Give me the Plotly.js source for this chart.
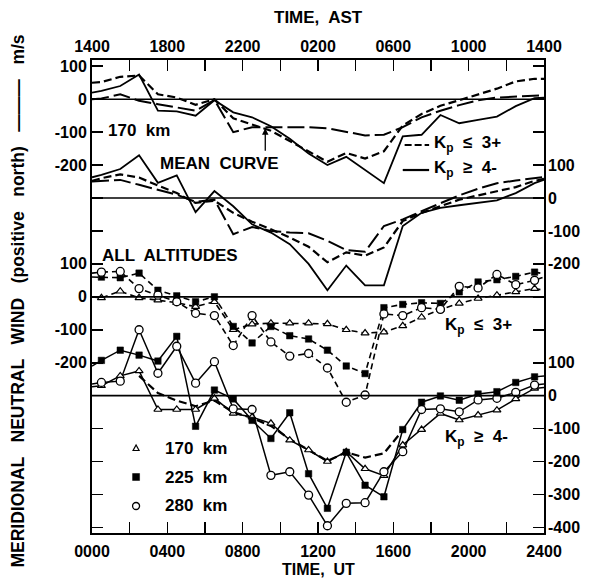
<!DOCTYPE html>
<html><head><meta charset="utf-8">
<script src="https://cdn.plot.ly/plotly-3.0.1.min.js"></script>
<style>html,body{margin:0;padding:0;background:#fff}#chart{width:606px;height:581px}</style>
</head><body><div id="chart"></div>
<script>
// ---- data (m/s, positive north), times in hours UT ----
const TIME_UT = [0, 0.5, 1.5, 2.5, 3.5, 4.5, 5.5, 6.5, 7.5, 8.5, 9.5, 10.5, 11.5, 12.5, 13.5, 14.5, 15.5, 16.5, 17.5, 18.5, 19.5, 20.5, 21.5, 22.5, 23.5, 24];
const UT_TICKS = [0, 2, 4, 6, 8, 10, 12, 14, 16, 18, 20, 22, 24];
const UT_LABELS = ["0000", "", "0400", "", "0800", "", "1200", "", "1600", "", "2000", "", "2400"];
const AST_LABELS = ["1400", "", "1800", "", "2200", "", "0200", "", "0600", "", "1000", "", "1400"];

// Panel 1: 170 km
const p1Quiet = [50, 52, 68, 72, 15, 5, -17, 0, -58, -78, -96, -127, -159, -190, -163, -180, -158, -80, -45, -20, -3, 15, 32, 54, 62, 62];
const p1Active = [20, 25, 40, 75, -35, -37, -50, -3, -40, -55, -82, -120, -165, -200, -175, -215, -255, -113, -108, -48, -73, -63, -53, -21, 3, 5];
const p1Mean = [0, 2, 15, -5, -15, -25, -35, -2, -100, -85, -85, -85, -85, -88, -100, -110, -108, -85, -55, -35, -18, -3, 5, 8, 12, 12];
// Panel 2: all altitudes
const p2Quiet = [52, 60, 72, 62, 38, 15, -15, -8, -45, -72, -95, -120, -148, -195, -165, -175, -150, -70, -45, -25, -5, 8, 20, 33, 52, 58];
const p2Active = [63, 70, 88, 130, 46, 69, -43, 21, -25, -80, -105, -140, -200, -280, -205, -265, -265, -85, -45, -30, -22, -15, -7, 15, 45, 55];
const p2Mean = [50, 52, 55, 40, 25, 10, -12, -5, -110, -88, -100, -105, -107, -130, -158, -163, -85, -65, -40, -15, 8, 28, 45, 53, 60, 64];
// Panel 3: Kp <= 3+
const p3_170 = [0, -3, 17, -3, -10, -18, -30, -15, -100, -83, -80, -80, -80, -82, -100, -110, -107, -88, -62, -38, -20, -5, 5, 15, 25, 20];
const p3_225 = [60, 60, 58, 72, 20, 3, -15, 0, -90, -140, -90, -118, -128, -162, -210, -233, -33, -23, -18, -20, 15, 45, 52, 62, 75, 70];
const p3_280 = [72, 75, 77, 25, 5, -15, -50, -57, -148, -57, -137, -180, -172, -216, -320, -298, -52, -57, -33, -38, 32, 27, 68, 37, 50, 60];
// Panel 4: Kp >= 4-
const p4_170 = [27, 30, 60, 75, -42, -42, -42, -8, -54, -65, -84, -135, -165, -200, -170, -222, -243, -150, -103, -54, -74, -59, -44, -10, 22, 25];
const p4_225 = [90, 107, 138, 123, 105, 180, -93, 17, -10, -75, -130, -52, -237, -342, -172, -272, -307, -103, -20, -1, -14, 5, 12, 40, 57, 60];
const p4_280 = [35, 40, 44, 200, 68, 150, 38, 103, -40, -42, -242, -231, -302, -395, -327, -325, -231, -170, -42, -40, -49, -13, -8, 10, 32, 35];
const MEAN4_TIME = [2.5, 3.5, 4.5, 5.5, 6.5, 7.5, 8.5, 9.5, 10.5, 11.5, 12.5, 13.5, 14.5, 15.5, 16.5];
const p4Mean = [60, 8, -15, -32, -15, -50, -68, -92, -132, -165, -198, -172, -188, -175, -105];

// ---- layout helpers ----
const OFF = [0, -300, -600, -900];
const shift = (arr, k) => arr.map(v => v + OFF[k]);
const SHORT = "8px,4px", LONG = "17px,5px", MK = "6px,4px";
const traces = [];
function addLine(x, vals, k, dash, w, ax) {
  traces.push({x: x, y: shift(vals, k), mode: "lines", xaxis: ax ? "x2" : "x", yaxis: ax ? "y2" : "y",
    line: {color: "black", width: w, dash: dash}, hoverinfo: "skip", showlegend: false});
}
function addMarkers(vals, k, sym, ax) {
  const st = {
    tri: {symbol: "triangle-up", size: 7, color: "white", line: {color: "black", width: 1.2}},
    sq: {symbol: "square", size: 6.5, color: "black", line: {color: "black", width: 0.5}},
    circ: {symbol: "circle", size: 8, color: "white", line: {color: "black", width: 1.3}}
  }[sym];
  traces.push({x: TIME_UT.slice(1, -1), y: shift(vals, k).slice(1, -1), mode: "markers",
    xaxis: ax ? "x2" : "x", yaxis: ax ? "y2" : "y", marker: st, hoverinfo: "skip", showlegend: false});
}
// panel 1
addLine(TIME_UT, p1Mean, 0, LONG, 2, false);
addLine(TIME_UT, p1Quiet, 0, SHORT, 2.2, false);
addLine(TIME_UT, p1Active, 0, "solid", 1.8, false);
// panel 2
addLine(TIME_UT, p2Mean, 1, LONG, 2, true);
addLine(TIME_UT, p2Quiet, 1, SHORT, 2.2, true);
addLine(TIME_UT, p2Active, 1, "solid", 1.8, true);
// panel 3
addLine(TIME_UT, p3_170, 2, MK, 1.6, false);
addLine(TIME_UT, p3_225, 2, MK, 1.6, false);
addLine(TIME_UT, p3_280, 2, MK, 1.6, false);
addMarkers(p3_170, 2, "tri", false);
addMarkers(p3_225, 2, "sq", false);
addMarkers(p3_280, 2, "circ", false);
// panel 4
addLine(MEAN4_TIME, p4Mean, 3, SHORT, 2.2, true);
addLine(TIME_UT, p4_170, 3, "solid", 1.5, true);
addLine(TIME_UT, p4_225, 3, "solid", 1.5, true);
addLine(TIME_UT, p4_280, 3, "solid", 1.5, true);
addMarkers(p4_170, 3, "tri", true);
addMarkers(p4_225, 3, "sq", true);
addMarkers(p4_280, 3, "circ", true);

const YT = [100, 0, -100, -200, -300, -400, -500, -600, -700, -800, -900, -1000, -1100, -1200, -1300];
const LEFT_LABELS = ["100", "0", "-100", "-200", "", "", "100", "0", "-100", "-200", "", "", "", "", ""];
const RIGHT_LABELS = ["", "", "", "100", "0", "-100", "-200", "", "", "100", "0", "-100", "-200", "-300", "-400"];

const FONT = "Liberation Sans, Arial, sans-serif";
const tf = {family: FONT, size: 16, color: "black", weight: "bold"};
const YR = [-1317, 119];

const shapes = OFF.map(o => ({type: "line", xref: "paper", x0: 0, x1: 1, yref: "y", y0: o, y1: o,
  line: {color: "black", width: 1.6}}));
// legend samples in panel 1
shapes.push({type: "line", xref: "x", yref: "y", x0: 16.6, x1: 17.9, y0: -139, y1: -139, line: {color: "black", width: 2.2, dash: "7px,3px"}});
shapes.push({type: "line", xref: "x", yref: "y", x0: 16.5, x1: 17.9, y0: -215, y1: -215, line: {color: "black", width: 2.2}});
// marker legend in panel 4
const mkY = [-1059, -1147, -1235];
shapes.push({type: "path", xref: "x", yref: "y", xsizemode: "pixel", ysizemode: "pixel", xanchor: 2.34, yanchor: mkY[0],
  path: "M-3,-2.5 L3,-2.5 L0,3 Z", line: {color: "black", width: 1.2}, fillcolor: "white"});
shapes.push({type: "rect", xref: "x", yref: "y", xsizemode: "pixel", ysizemode: "pixel", xanchor: 2.34, yanchor: mkY[1],
  x0: -3.5, x1: 3.5, y0: -3.5, y1: 3.5, line: {color: "black", width: 0.5}, fillcolor: "black"});
shapes.push({type: "circle", xref: "x", yref: "y", xsizemode: "pixel", ysizemode: "pixel", xanchor: 2.34, yanchor: mkY[2],
  x0: -3.5, x1: 3.5, y0: -3.5, y1: 3.5, line: {color: "black", width: 1.3}, fillcolor: "white"});

const af = (s) => ({family: FONT, size: s || 16, color: "black", weight: "bold"});
const ann = (x, y, text, s) => ({x: x, y: y, xref: "x", yref: "y", text: text, showarrow: false,
  xanchor: "left", yanchor: "middle", font: af(s)});
const annotations = [
  ann(0.74, -96, "170  km", 17),
  ann(3.5, -194, "MEAN  CURVE", 17),
  ann(18.06, -136, "K<sub>p</sub>  ≤  3+", 17),
  ann(18.06, -212, "K<sub>p</sub>  ≥  4-", 17),
  ann(0.42, -476, "ALL  ALTITUDES", 17),
  ann(18.64, -688, "K<sub>p</sub>  ≤  3+", 17),
  ann(18.64, -1028, "K<sub>p</sub>  ≥  4-", 17),
  ann(3.77, mkY[0], "170  km", 17),
  ann(3.77, mkY[1], "225  km", 17),
  ann(3.77, mkY[2], "280  km", 17),
  {x: 9.2, y: -88, xref: "x", yref: "y", text: "", showarrow: true, ax: 0, ay: 24, arrowhead: 2, arrowsize: 1, arrowwidth: 1.3, arrowcolor: "black"},
  {x: 0.5, y: 1.089, xref: "paper", yref: "paper", text: "TIME,  AST", showarrow: false, font: af(17), xanchor: "center", yanchor: "middle"},
  {x: 0.5, y: -0.078, xref: "paper", yref: "paper", text: "TIME,  UT", showarrow: false, font: af(16), xanchor: "center", yanchor: "middle"},
  {x: -0.163, y: 0.49, xref: "paper", yref: "paper", text: "MERIDIONAL   NEUTRAL   WIND   (positive   north)   ———   m/s", textangle: -90,
    showarrow: false, font: af(17.5), xanchor: "center", yanchor: "middle"}
];

const layout = {
  width: 606, height: 581,
  margin: {l: 92, r: 62, t: 60, b: 48, pad: 0},
  paper_bgcolor: "white", plot_bgcolor: "white",
  showlegend: false,
  xaxis: {range: [0, 24], tickvals: UT_TICKS, ticktext: UT_LABELS, ticks: "inside", ticklen: 11, tickwidth: 1.6,
    tickcolor: "black", showgrid: false, zeroline: false, showline: true, linewidth: 2, linecolor: "black", mirror: true,
    tickfont: tf, ticklabelstandoff: 3, fixedrange: true},
  xaxis2: {range: [0, 24], overlaying: "x", side: "top", anchor: "y", tickvals: UT_TICKS, ticktext: AST_LABELS,
    ticks: "inside", ticklen: 11, tickwidth: 1.6, tickcolor: "black", showgrid: false, zeroline: false, showline: false,
    tickfont: tf, ticklabelstandoff: 4},
  yaxis: {range: YR, tickvals: YT, ticktext: LEFT_LABELS, ticks: "inside", ticklen: 11, tickwidth: 1.6, tickcolor: "black",
    showgrid: false, zeroline: false, showline: true, linewidth: 2, linecolor: "black", mirror: true, tickfont: tf},
  yaxis2: {range: YR, overlaying: "y", side: "right", anchor: "x", tickvals: YT, ticktext: RIGHT_LABELS, ticks: "inside", ticklen: 11,
    tickwidth: 1.6, tickcolor: "black", showgrid: false, zeroline: false, showline: false, tickfont: tf, ticklabelstandoff: 3},
  shapes: shapes,
  annotations: annotations
};
Plotly.newPlot("chart", traces, layout, {displayModeBar: false, staticPlot: true});
</script>
</body></html>
